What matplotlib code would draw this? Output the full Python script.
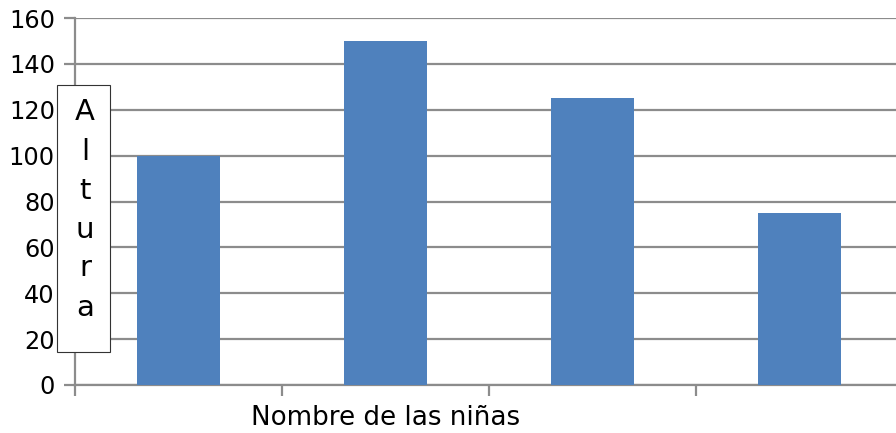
import numpy as np
import matplotlib
matplotlib.use("Agg")
import matplotlib.pyplot as plt
from matplotlib.patches import Rectangle

# Data
alturas = [100, 150, 125, 75]
y_ticks = [0, 20, 40, 60, 80, 100, 120, 140, 160]
x_title = "Nombre de las niñas"
y_title = "Altura"

W, H = 896, 433
fig = plt.figure(figsize=(W / 100, H / 100), dpi=100)

# axes spans 75px -> 903px (clipped by the figure edge)
x0, x1 = 75, 903
y0, y1 = 385, 18
ax = fig.add_axes([x0 / W, (H - y0) / H, (x1 - x0) / W, (y0 - y1) / H])

grid_col = "#8c8c8c"
pos = np.arange(len(alturas)) + 0.5
ax.bar(pos, alturas, width=0.4, color="#4f81bd", zorder=3)

ax.set_xlim(0, len(alturas))
ax.set_ylim(0, 160)
ax.set_yticks(y_ticks)
ax.set_xticks(np.arange(len(alturas) + 1))
ax.set_xticklabels([])
ax.yaxis.grid(True, color=grid_col, linewidth=1.6, zorder=0)
ax.set_axisbelow(True)

for s in ["top", "right"]:
    ax.spines[s].set_visible(False)
for s in ["left", "bottom"]:
    ax.spines[s].set_color(grid_col)
    ax.spines[s].set_linewidth(1.6)

ax.tick_params(axis="both", colors=grid_col, width=1.6, length=8,
               labelcolor="black", labelsize=17.3)
ax.tick_params(axis="y", pad=6.5)

# x title
fig.text(386 / W, 1 - 418 / H, x_title, ha="center", va="center", fontsize=18.8)

# y title: vertical letters inside a box
bx0, bx1, by0, by1 = 57, 110, 85, 352
fig.patches.append(Rectangle((bx0 / W, 1 - by1 / H), (bx1 - bx0) / W, (by1 - by0) / H,
                             transform=fig.transFigure, facecolor="white",
                             edgecolor="#333333", linewidth=0.8, zorder=5))
fig.text(85 / W, 1 - 210 / H, "\n".join(y_title), ha="center", va="center",
         fontsize=21, linespacing=1.5, zorder=6)

fig.savefig("out.png", dpi=100)
